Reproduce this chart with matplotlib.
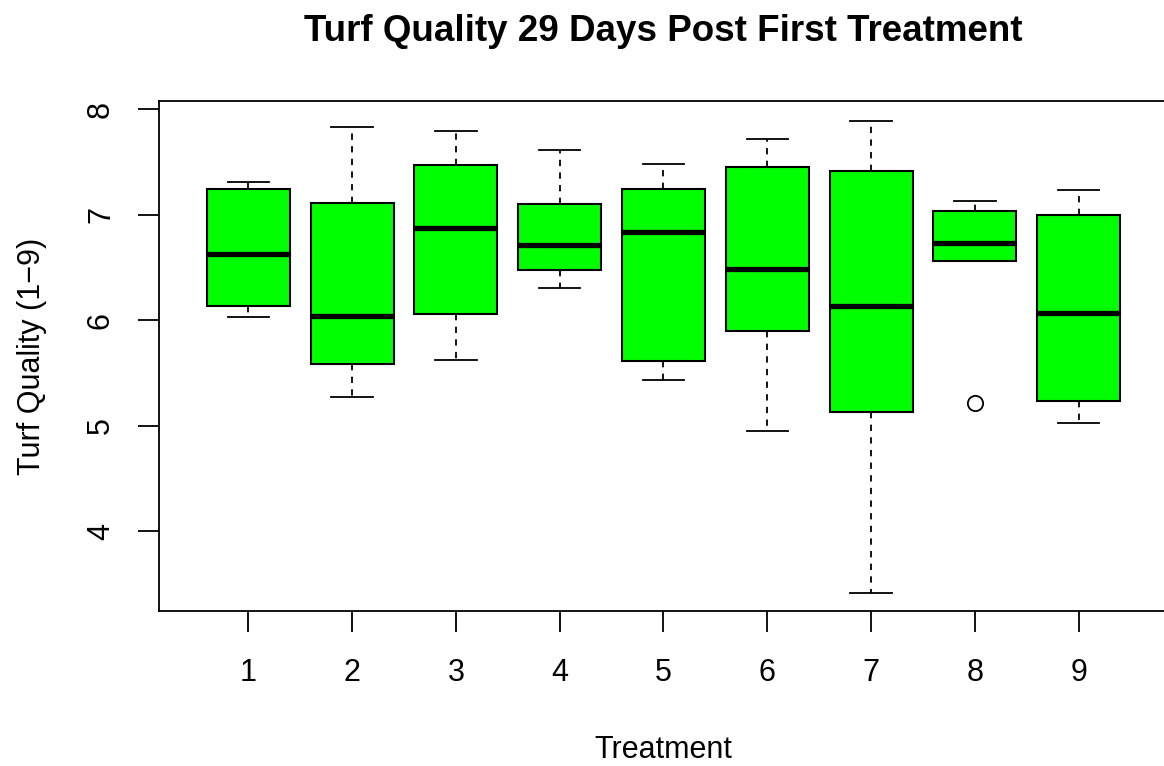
import matplotlib
matplotlib.use("Agg")
import matplotlib.pyplot as plt

# values (R style)
treatments = [1, 2, 3, 4, 5, 6, 7, 8, 9]
medians = [6.63, 6.04, 6.87, 6.71, 6.83, 6.48, 6.13, 6.73, 6.07]
q1 = [6.13, 5.58, 6.06, 6.47, 5.61, 5.90, 5.13, 6.56, 5.23]
q3 = [7.24, 7.11, 7.47, 7.10, 7.24, 7.45, 7.41, 7.03, 7.00]
whisk_lo = [6.03, 5.27, 5.62, 6.30, 5.43, 4.95, 3.41, 6.56, 5.02]
whisk_hi = [7.31, 7.83, 7.79, 7.61, 7.48, 7.72, 7.89, 7.13, 7.23]
outliers = [[], [], [], [], [], [], [], [5.21], []]

plt.rcParams['font.family'] = ['Liberation Sans', 'DejaVu Sans']

fig = plt.figure(figsize=(11.64, 7.66), dpi=100)
ax = fig.add_axes([0.1366, 0.2023, 0.8668, 0.6658])

stats = []
for i in range(len(treatments)):
    stats.append(dict(med=medians[i], q1=q1[i], q3=q3[i],
                      whislo=whisk_lo[i], whishi=whisk_hi[i],
                      fliers=outliers[i], label=str(treatments[i])))

ax.bxp(stats, positions=treatments, widths=0.8, patch_artist=True,
       boxprops=dict(facecolor='#00ff00', edgecolor='black', linewidth=1.5),
       medianprops=dict(color='black', linewidth=3.8, solid_capstyle='butt'),
       whiskerprops=dict(color='black', linewidth=1.3, linestyle=(0, (3.5, 3.5))),
       capprops=dict(color='black', linewidth=1.3),
       capwidths=0.4,
       flierprops=dict(marker='o', markerfacecolor='none', markeredgecolor='black',
                       markersize=11, markeredgewidth=1.3))

ax.set_xlim(0.14, 9.86)
ax.set_ylim(3.242, 8.076)
ax.set_yticks([4, 5, 6, 7, 8])
ax.set_xticks(treatments)
ax.set_xticklabels([str(t) for t in treatments])

for s in ax.spines.values():
    s.set_linewidth(1.3)
ax.spines['right'].set_visible(False)

ax.tick_params(axis='both', length=15, width=1.3, labelsize=22)
ax.tick_params(axis='x', pad=19)
ax.tick_params(axis='y', pad=16, labelrotation=90)
for lab in ax.get_yticklabels():
    lab.set_va('center')

ax.set_title("Turf Quality 29 Days Post First Treatment", fontsize=26.5,
             fontweight='bold', pad=43)
ax.set_xlabel("Treatment", fontsize=22, labelpad=34)
ax.set_ylabel("Turf Quality (1\u22129)", fontsize=22, labelpad=28)

fig.savefig("out.png", dpi=100)
